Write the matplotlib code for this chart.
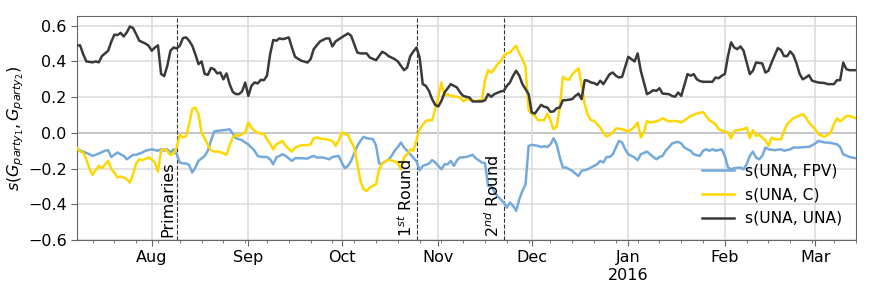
import pandas as pd
import matplotlib
matplotlib.use("Agg")
import matplotlib.pyplot as plt
import matplotlib.dates as mdates

# s(UNA, UNA)
una_una_dates = [
    "2015-07-08", "2015-07-09", "2015-07-10", "2015-07-11", "2015-07-13", "2015-07-14", "2015-07-15",
    "2015-07-16", "2015-07-18", "2015-07-19", "2015-07-20", "2015-07-21", "2015-07-22", "2015-07-23",
    "2015-07-24", "2015-07-25", "2015-07-26", "2015-07-27", "2015-07-28", "2015-07-30", "2015-07-31",
    "2015-08-01", "2015-08-02", "2015-08-03", "2015-08-04", "2015-08-05", "2015-08-06", "2015-08-07",
    "2015-08-08", "2015-08-09", "2015-08-10", "2015-08-11", "2015-08-12", "2015-08-13", "2015-08-14",
    "2015-08-15", "2015-08-16", "2015-08-17", "2015-08-18", "2015-08-19", "2015-08-20", "2015-08-21",
    "2015-08-22", "2015-08-23", "2015-08-24", "2015-08-25", "2015-08-26", "2015-08-27", "2015-08-28",
    "2015-08-29", "2015-08-30", "2015-08-31", "2015-09-01", "2015-09-02", "2015-09-03", "2015-09-04",
    "2015-09-05", "2015-09-06", "2015-09-07", "2015-09-08", "2015-09-09", "2015-09-10", "2015-09-11",
    "2015-09-12", "2015-09-13", "2015-09-14", "2015-09-15", "2015-09-16", "2015-09-18", "2015-09-20",
    "2015-09-21", "2015-09-22", "2015-09-24", "2015-09-26", "2015-09-27", "2015-09-28", "2015-09-29",
    "2015-10-01", "2015-10-03", "2015-10-04", "2015-10-05", "2015-10-06", "2015-10-07", "2015-10-09",
    "2015-10-10", "2015-10-12", "2015-10-13", "2015-10-14", "2015-10-15", "2015-10-16", "2015-10-18",
    "2015-10-19", "2015-10-20", "2015-10-21", "2015-10-22", "2015-10-23", "2015-10-24", "2015-10-25",
    "2015-10-26", "2015-10-27", "2015-10-28", "2015-10-29", "2015-10-30", "2015-10-31", "2015-11-01",
    "2015-11-02", "2015-11-03", "2015-11-04", "2015-11-05", "2015-11-07", "2015-11-08", "2015-11-09",
    "2015-11-10", "2015-11-11", "2015-11-12", "2015-11-13", "2015-11-15", "2015-11-16", "2015-11-17",
    "2015-11-18", "2015-11-19", "2015-11-21", "2015-11-22", "2015-11-23", "2015-11-24", "2015-11-25",
    "2015-11-26", "2015-11-27", "2015-11-28", "2015-11-29", "2015-11-30", "2015-12-01", "2015-12-02",
    "2015-12-03", "2015-12-04", "2015-12-05", "2015-12-06", "2015-12-07", "2015-12-08", "2015-12-09",
    "2015-12-10", "2015-12-11", "2015-12-12", "2015-12-14", "2015-12-15", "2015-12-16", "2015-12-17",
    "2015-12-18", "2015-12-19", "2015-12-20", "2015-12-21", "2015-12-22", "2015-12-23", "2015-12-24",
    "2015-12-26", "2015-12-27", "2015-12-28", "2015-12-29", "2015-12-30", "2016-01-01", "2016-01-02",
    "2016-01-03", "2016-01-04", "2016-01-05", "2016-01-06", "2016-01-07", "2016-01-08", "2016-01-09",
    "2016-01-10", "2016-01-11", "2016-01-12", "2016-01-14", "2016-01-15", "2016-01-16", "2016-01-17",
    "2016-01-18", "2016-01-20", "2016-01-21", "2016-01-22", "2016-01-23", "2016-01-24", "2016-01-25",
    "2016-01-26", "2016-01-28", "2016-01-29", "2016-01-30", "2016-01-31", "2016-02-01", "2016-02-02",
    "2016-02-03", "2016-02-04", "2016-02-05", "2016-02-06", "2016-02-07", "2016-02-08", "2016-02-09",
    "2016-02-10", "2016-02-11", "2016-02-13", "2016-02-14", "2016-02-15", "2016-02-16", "2016-02-18",
    "2016-02-19", "2016-02-20", "2016-02-21", "2016-02-22", "2016-02-23", "2016-02-24", "2016-02-25",
    "2016-02-26", "2016-02-27", "2016-02-28", "2016-02-29", "2016-03-02", "2016-03-04", "2016-03-05",
    "2016-03-07", "2016-03-08", "2016-03-09", "2016-03-10", "2016-03-11", "2016-03-12", "2016-03-14",
]
una_una = [
    0.49, 0.49, 0.44, 0.40, 0.395, 0.40, 0.395,
    0.43, 0.46, 0.51, 0.55, 0.548, 0.56, 0.54,
    0.563, 0.596, 0.587, 0.553, 0.516, 0.50, 0.488,
    0.46, 0.478, 0.49, 0.33, 0.318, 0.376, 0.46,
    0.478, 0.473, 0.488, 0.53, 0.535, 0.516, 0.488,
    0.44, 0.385, 0.40, 0.33, 0.325, 0.363, 0.357,
    0.333, 0.338, 0.30, 0.333, 0.273, 0.23, 0.217,
    0.217, 0.232, 0.282, 0.207, 0.263, 0.282, 0.277,
    0.297, 0.295, 0.32, 0.44, 0.52, 0.516, 0.529,
    0.525, 0.529, 0.535, 0.478, 0.426, 0.404, 0.394,
    0.413, 0.469, 0.512, 0.529, 0.529, 0.484, 0.512,
    0.535, 0.557, 0.544, 0.497, 0.45, 0.445, 0.445,
    0.422, 0.407, 0.43, 0.454, 0.445, 0.43, 0.413,
    0.40, 0.376, 0.351, 0.366, 0.43, 0.456, 0.478,
    0.422, 0.273, 0.263, 0.235, 0.189, 0.157, 0.148,
    0.179, 0.226, 0.25, 0.273, 0.254, 0.226, 0.207,
    0.202, 0.198, 0.176, 0.176, 0.176, 0.183, 0.217,
    0.202, 0.217, 0.232, 0.235, 0.263, 0.282, 0.32,
    0.348, 0.32, 0.273, 0.245, 0.217, 0.114, 0.108,
    0.133, 0.157, 0.146, 0.142, 0.118, 0.12, 0.138,
    0.142, 0.183, 0.183, 0.189, 0.207, 0.22, 0.189,
    0.295, 0.292, 0.282, 0.279, 0.269, 0.292, 0.273,
    0.329, 0.338, 0.32, 0.31, 0.314, 0.426, 0.413,
    0.40, 0.445, 0.348, 0.282, 0.217, 0.226, 0.239,
    0.235, 0.25, 0.22, 0.217, 0.207, 0.202, 0.226,
    0.207, 0.329, 0.32, 0.329, 0.30, 0.29, 0.286,
    0.286, 0.286, 0.31, 0.306, 0.32, 0.33, 0.43,
    0.507, 0.478, 0.469, 0.484, 0.46, 0.394, 0.329,
    0.348, 0.394, 0.389, 0.338, 0.348, 0.394, 0.475,
    0.464, 0.43, 0.43, 0.456, 0.435, 0.39, 0.33,
    0.30, 0.31, 0.323, 0.292, 0.282, 0.279, 0.273,
    0.273, 0.295, 0.295, 0.394, 0.357, 0.351, 0.351,
]

# s(UNA, FPV)
una_fpv_dates = [
    "2015-07-08", "2015-07-09", "2015-07-10", "2015-07-12", "2015-07-13", "2015-07-15", "2015-07-17",
    "2015-07-18", "2015-07-19", "2015-07-21", "2015-07-22", "2015-07-23", "2015-07-24", "2015-07-26",
    "2015-07-27", "2015-07-29", "2015-07-30", "2015-08-01", "2015-08-03", "2015-08-04", "2015-08-05",
    "2015-08-06", "2015-08-07", "2015-08-08", "2015-08-09", "2015-08-10", "2015-08-11", "2015-08-12",
    "2015-08-13", "2015-08-14", "2015-08-15", "2015-08-16", "2015-08-18", "2015-08-19", "2015-08-20",
    "2015-08-21", "2015-08-22", "2015-08-24", "2015-08-25", "2015-08-26", "2015-08-27", "2015-08-28",
    "2015-08-30", "2015-08-31", "2015-09-01", "2015-09-03", "2015-09-04", "2015-09-05", "2015-09-07",
    "2015-09-08", "2015-09-09", "2015-09-10", "2015-09-12", "2015-09-13", "2015-09-15", "2015-09-16",
    "2015-09-18", "2015-09-20", "2015-09-21", "2015-09-22", "2015-09-23", "2015-09-25", "2015-09-27",
    "2015-09-28", "2015-09-30", "2015-10-01", "2015-10-02", "2015-10-03", "2015-10-04", "2015-10-06",
    "2015-10-07", "2015-10-08", "2015-10-09", "2015-10-11", "2015-10-12", "2015-10-13", "2015-10-14",
    "2015-10-15", "2015-10-16", "2015-10-17", "2015-10-18", "2015-10-19", "2015-10-20", "2015-10-21",
    "2015-10-22", "2015-10-23", "2015-10-25", "2015-10-26", "2015-10-27", "2015-10-29", "2015-10-30",
    "2015-10-31", "2015-11-02", "2015-11-03", "2015-11-04", "2015-11-05", "2015-11-06", "2015-11-07",
    "2015-11-08", "2015-11-10", "2015-11-11", "2015-11-12", "2015-11-13", "2015-11-15", "2015-11-16",
    "2015-11-17", "2015-11-18", "2015-11-19", "2015-11-20", "2015-11-21", "2015-11-22", "2015-11-23",
    "2015-11-24", "2015-11-25", "2015-11-26", "2015-11-27", "2015-11-28", "2015-11-29", "2015-11-30",
    "2015-12-01", "2015-12-03", "2015-12-04", "2015-12-05", "2015-12-06", "2015-12-07", "2015-12-08",
    "2015-12-09", "2015-12-10", "2015-12-11", "2015-12-12", "2015-12-14", "2015-12-15", "2015-12-16",
    "2015-12-17", "2015-12-19", "2015-12-20", "2015-12-22", "2015-12-23", "2015-12-24", "2015-12-25",
    "2015-12-26", "2015-12-27", "2015-12-28", "2015-12-29", "2015-12-30", "2015-12-31", "2016-01-01",
    "2016-01-03", "2016-01-04", "2016-01-05", "2016-01-07", "2016-01-08", "2016-01-09", "2016-01-10",
    "2016-01-11", "2016-01-12", "2016-01-13", "2016-01-14", "2016-01-15", "2016-01-16", "2016-01-17",
    "2016-01-18", "2016-01-19", "2016-01-20", "2016-01-21", "2016-01-22", "2016-01-23", "2016-01-24",
    "2016-01-25", "2016-01-26", "2016-01-27", "2016-01-28", "2016-01-29", "2016-01-31", "2016-02-01",
    "2016-02-02", "2016-02-03", "2016-02-04", "2016-02-06", "2016-02-07", "2016-02-08", "2016-02-09",
    "2016-02-10", "2016-02-11", "2016-02-12", "2016-02-13", "2016-02-14", "2016-02-15", "2016-02-17",
    "2016-02-19", "2016-02-20", "2016-02-22", "2016-02-23", "2016-02-25", "2016-02-27", "2016-02-28",
    "2016-03-01", "2016-03-02", "2016-03-04", "2016-03-05", "2016-03-07", "2016-03-08", "2016-03-09",
    "2016-03-10", "2016-03-12", "2016-03-14",
]
una_fpv = [
    -0.086, -0.10, -0.105, -0.12, -0.129, -0.116, -0.10,
    -0.097, -0.135, -0.11, -0.12, -0.129, -0.148, -0.123,
    -0.123, -0.11, -0.10, -0.092, -0.10, -0.092, -0.10,
    -0.092, -0.11, -0.092, -0.12, -0.166, -0.17, -0.172,
    -0.179, -0.222, -0.194, -0.157, -0.129, -0.10, -0.045,
    0.007, 0.011, 0.015, 0.017, 0.02, -0.004, -0.03,
    -0.041, -0.054, -0.065, -0.10, -0.129, -0.135, -0.135,
    -0.148, -0.176, -0.138, -0.12, -0.129, -0.157, -0.142,
    -0.142, -0.144, -0.135, -0.129, -0.138, -0.138, -0.148,
    -0.135, -0.129, -0.166, -0.198, -0.185, -0.157, -0.073,
    -0.045, -0.022, -0.03, -0.035, -0.07, -0.172, -0.172,
    -0.16, -0.15, -0.129, -0.10, -0.079, -0.054, -0.082,
    -0.10, -0.12, -0.16, -0.21, -0.185, -0.172, -0.153,
    -0.166, -0.204, -0.176, -0.176, -0.157, -0.185, -0.153,
    -0.138, -0.135, -0.129, -0.123, -0.142, -0.166, -0.17,
    -0.297, -0.30, -0.33, -0.355, -0.372, -0.39, -0.419,
    -0.39, -0.409, -0.437, -0.372, -0.325, -0.288, -0.073,
    -0.067, -0.073, -0.079, -0.075, -0.079, -0.064, -0.03,
    -0.064, -0.138, -0.194, -0.194, -0.213, -0.228, -0.241,
    -0.213, -0.204, -0.194, -0.176, -0.157, -0.166, -0.135,
    -0.135, -0.12, -0.082, -0.045, -0.054, -0.092, -0.12,
    -0.138, -0.153, -0.12, -0.105, -0.12, -0.135, -0.148,
    -0.135, -0.129, -0.10, -0.082, -0.06, -0.054, -0.05,
    -0.06, -0.082, -0.092, -0.10, -0.12, -0.125, -0.129,
    -0.10, -0.092, -0.10, -0.092, -0.10, -0.092, -0.129,
    -0.194, -0.204, -0.198, -0.194, -0.204, -0.176, -0.129,
    -0.105, -0.138, -0.148, -0.129, -0.082, -0.092, -0.097,
    -0.092, -0.10, -0.092, -0.082, -0.082, -0.079, -0.079,
    -0.06, -0.045, -0.054, -0.054, -0.06, -0.064, -0.079,
    -0.12, -0.135, -0.142,
]

# s(UNA, C)
una_c_dates = [
    "2015-07-08", "2015-07-09", "2015-07-10", "2015-07-11", "2015-07-12", "2015-07-13", "2015-07-14",
    "2015-07-15", "2015-07-16", "2015-07-18", "2015-07-19", "2015-07-20", "2015-07-21", "2015-07-22",
    "2015-07-23", "2015-07-24", "2015-07-25", "2015-07-26", "2015-07-27", "2015-07-28", "2015-07-29",
    "2015-07-31", "2015-08-01", "2015-08-02", "2015-08-03", "2015-08-04", "2015-08-05", "2015-08-06",
    "2015-08-07", "2015-08-08", "2015-08-09", "2015-08-10", "2015-08-11", "2015-08-12", "2015-08-13",
    "2015-08-14", "2015-08-15", "2015-08-16", "2015-08-17", "2015-08-18", "2015-08-19", "2015-08-20",
    "2015-08-21", "2015-08-22", "2015-08-23", "2015-08-25", "2015-08-26", "2015-08-27", "2015-08-28",
    "2015-08-29", "2015-08-31", "2015-09-01", "2015-09-02", "2015-09-03", "2015-09-04", "2015-09-05",
    "2015-09-06", "2015-09-07", "2015-09-08", "2015-09-09", "2015-09-10", "2015-09-12", "2015-09-13",
    "2015-09-15", "2015-09-16", "2015-09-18", "2015-09-20", "2015-09-21", "2015-09-22", "2015-09-23",
    "2015-09-24", "2015-09-26", "2015-09-28", "2015-09-29", "2015-09-30", "2015-10-01", "2015-10-02",
    "2015-10-03", "2015-10-04", "2015-10-05", "2015-10-06", "2015-10-07", "2015-10-08", "2015-10-09",
    "2015-10-10", "2015-10-11", "2015-10-12", "2015-10-13", "2015-10-14", "2015-10-15", "2015-10-16",
    "2015-10-17", "2015-10-18", "2015-10-19", "2015-10-20", "2015-10-21", "2015-10-22", "2015-10-23",
    "2015-10-24", "2015-10-25", "2015-10-26", "2015-10-27", "2015-10-28", "2015-10-29", "2015-10-30",
    "2015-10-31", "2015-11-01", "2015-11-02", "2015-11-03", "2015-11-04", "2015-11-05", "2015-11-07",
    "2015-11-08", "2015-11-09", "2015-11-10", "2015-11-12", "2015-11-13", "2015-11-14", "2015-11-15",
    "2015-11-16", "2015-11-17", "2015-11-18", "2015-11-19", "2015-11-20", "2015-11-21", "2015-11-22",
    "2015-11-23", "2015-11-24", "2015-11-25", "2015-11-26", "2015-11-27", "2015-11-28", "2015-11-29",
    "2015-11-30", "2015-12-01", "2015-12-02", "2015-12-03", "2015-12-05", "2015-12-06", "2015-12-07",
    "2015-12-08", "2015-12-09", "2015-12-10", "2015-12-11", "2015-12-12", "2015-12-13", "2015-12-14",
    "2015-12-16", "2015-12-17", "2015-12-18", "2015-12-19", "2015-12-20", "2015-12-21", "2015-12-22",
    "2015-12-23", "2015-12-24", "2015-12-25", "2015-12-26", "2015-12-27", "2015-12-28", "2015-12-29",
    "2015-12-30", "2015-12-31", "2016-01-01", "2016-01-02", "2016-01-03", "2016-01-04", "2016-01-05",
    "2016-01-06", "2016-01-07", "2016-01-08", "2016-01-10", "2016-01-11", "2016-01-12", "2016-01-14",
    "2016-01-15", "2016-01-17", "2016-01-18", "2016-01-20", "2016-01-21", "2016-01-23", "2016-01-25",
    "2016-01-26", "2016-01-27", "2016-01-29", "2016-01-30", "2016-02-01", "2016-02-02", "2016-02-03",
    "2016-02-04", "2016-02-05", "2016-02-07", "2016-02-08", "2016-02-09", "2016-02-10", "2016-02-11",
    "2016-02-12", "2016-02-13", "2016-02-14", "2016-02-15", "2016-02-16", "2016-02-17", "2016-02-19",
    "2016-02-20", "2016-02-21", "2016-02-23", "2016-02-24", "2016-02-26", "2016-02-27", "2016-02-28",
    "2016-03-01", "2016-03-02", "2016-03-04", "2016-03-05", "2016-03-06", "2016-03-07", "2016-03-08",
    "2016-03-09", "2016-03-10", "2016-03-11", "2016-03-12", "2016-03-14",
]
una_c = [
    -0.086, -0.105, -0.11, -0.15, -0.20, -0.235, -0.209,
    -0.185, -0.198, -0.157, -0.204, -0.222, -0.25, -0.245,
    -0.25, -0.26, -0.279, -0.232, -0.172, -0.148, -0.153,
    -0.138, -0.148, -0.166, -0.217, -0.097, -0.092, -0.10,
    -0.125, -0.116, -0.082, -0.011, -0.026, -0.017, 0.049,
    0.133, 0.142, 0.105, 0.002, -0.03, -0.067, -0.097,
    -0.105, -0.105, -0.107, -0.123, -0.07, -0.026, -0.011,
    -0.017, 0.002, 0.058, 0.03, 0.011, 0.002, -0.007,
    -0.004, -0.036, -0.06, -0.092, -0.064, -0.045, -0.073,
    -0.105, -0.082, -0.069, -0.069, -0.064, -0.03, -0.026,
    -0.032, -0.036, -0.045, -0.073, -0.045, 0.002, -0.007,
    -0.011, -0.05, -0.082, -0.176, -0.269, -0.316, -0.325,
    -0.307, -0.297, -0.288, -0.204, -0.172, -0.16, -0.151,
    -0.155, -0.16, -0.17, -0.204, -0.138, -0.12, -0.092,
    -0.10, -0.04, 0.02, 0.045, 0.067, 0.071, 0.07,
    0.13, 0.20, 0.282, 0.207, 0.217, 0.207, 0.202,
    0.198, 0.176, 0.189, 0.183, 0.176, 0.183, 0.183,
    0.295, 0.351, 0.338, 0.357, 0.385, 0.40, 0.43,
    0.445, 0.45, 0.47, 0.488, 0.445, 0.413, 0.37,
    0.127, 0.108, 0.095, 0.071, 0.071, 0.108, 0.071,
    0.02, 0.034, 0.142, 0.314, 0.30, 0.297, 0.329,
    0.361, 0.27, 0.16, 0.10, 0.071, 0.067, 0.049,
    0.03, 0.002, -0.021, -0.011, 0.002, 0.024, 0.024,
    0.02, 0.015, 0.007, 0.02, 0.034, 0.058, -0.026,
    0.002, 0.067, 0.058, 0.064, 0.071, 0.082, 0.064,
    0.067, 0.064, 0.058, 0.082, 0.095, 0.108, 0.116,
    0.095, 0.071, 0.049, 0.02, 0.007, 0.002, -0.03,
    0.011, 0.015, 0.02, 0.03, -0.03, 0.015, -0.017,
    -0.011, -0.026, -0.041, -0.073, -0.026, -0.036, -0.036,
    0.011, 0.049, 0.082, 0.09, 0.105, 0.086, 0.058,
    0.02, -0.007, -0.022, -0.011, 0.002, 0.049, 0.082,
    0.064, 0.077, 0.095, 0.095, 0.082,
]

event_dates = ["2015-08-09", "2015-10-25", "2015-11-22"]
event_labels = ["Primaries", "1$^{st}$ Round", "2$^{nd}$ Round"]

fig = plt.figure(figsize=(8.72, 2.91), dpi=100)
ax = fig.add_axes([0.0883, 0.1753, 0.893, 0.770])

ax.axhline(0, color="#555555", lw=1.4, zorder=1)
ax.plot(pd.to_datetime(una_fpv_dates), una_fpv, color="#74a9dc", lw=1.8, label="s(UNA, FPV)", zorder=3)
ax.plot(pd.to_datetime(una_c_dates), una_c, color="#ffd700", lw=1.8, label="s(UNA, C)", zorder=3)
ax.plot(pd.to_datetime(una_una_dates), una_una, color="#3a3a3a", lw=1.8, label="s(UNA, UNA)", zorder=3)

for d, lab in zip(event_dates, event_labels):
    x = pd.Timestamp(d)
    ax.axvline(x, color="#333333", ls="--", lw=0.8, zorder=2)
    ax.text(x - pd.Timedelta(hours=10), -0.585, lab, rotation=90, ha="right", va="bottom",
            fontsize=11.5)

ax.set_xlim(pd.Timestamp("2015-07-08"), pd.Timestamp("2016-03-14"))
ax.set_ylim(-0.6, 0.655)
ax.set_yticks([-0.6, -0.4, -0.2, 0.0, 0.2, 0.4, 0.6])
ax.set_yticklabels(["\u22120.6", "\u22120.4", "\u22120.2", "0.0", "0.2", "0.4", "0.6"])


def month_fmt(x, pos=None):
    d = mdates.num2date(x)
    if d.month == 1:
        return d.strftime("%b\n%Y")
    return d.strftime("%b")


ax.xaxis.set_major_locator(mdates.MonthLocator())
ax.xaxis.set_major_formatter(plt.FuncFormatter(month_fmt))
ax.xaxis.set_minor_locator(mdates.WeekdayLocator(byweekday=mdates.MO))
ax.tick_params(axis="both", which="major", labelsize=11.5, length=4, color="#666666")
ax.tick_params(axis="x", which="minor", length=2, color="#666666")

ax.grid(True, which="major", color="#dddddd", lw=1.2, zorder=0)
for s in ax.spines.values():
    s.set_color("#666666")

ax.set_ylabel("$s(G_{party_1}, G_{party_2})$", fontsize=11.5, labelpad=1)

ax.legend(loc="lower right", frameon=False, fontsize=11.2, handlelength=2.1,
          handletextpad=0.65, labelspacing=0.55, borderaxespad=0.5)

fig.savefig("out.png", dpi=100)
